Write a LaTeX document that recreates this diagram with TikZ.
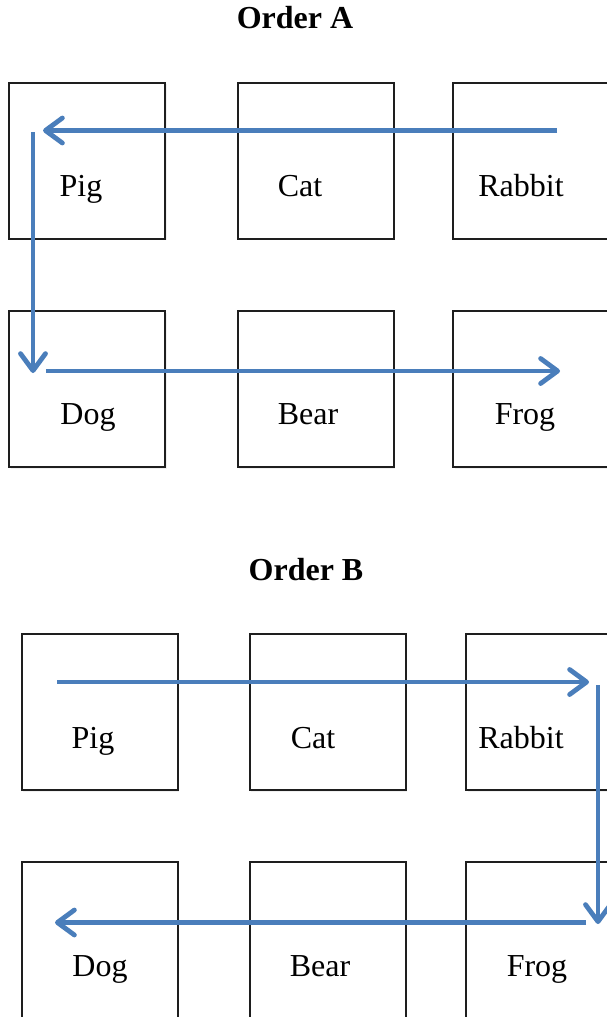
\documentclass[tikz,border=0pt]{standalone}
\usepackage{fontspec}
\setmainfont{Liberation Serif}
\usetikzlibrary{arrows.meta,shadows}
\definecolor{arrowblue}{RGB}{74,126,187}
\definecolor{boxline}{RGB}{30,30,30}
\tikzset{
  animalbox/.style={draw=boxline, line width=2pt, minimum width=156pt, minimum height=156pt,
    inner sep=0pt, fill=white, drop shadow={shadow xshift=1.5pt, shadow yshift=-1.5pt, opacity=0.12}},
  animal/.style={font=\fontsize{32}{38}\selectfont, inner sep=0pt, anchor=base},
  heading/.style={font=\fontsize{32}{38}\selectfont\bfseries, inner sep=0pt, anchor=base},
  flow/.style={draw=arrowblue, line width=4.8pt,
    -{Straight Barb[length=17pt, width=25pt, line cap=round, line join=round]}}
}
\begin{document}
\begin{tikzpicture}[x=1pt, y=-1pt]
\useasboundingbox (0,0) rectangle (606,1017);
% Order A
\node[heading] (titleA) at (295,28) {Order A};
\node[animalbox] (a1) at (87,160.5) {};
\node[animalbox] (a2) at (315.5,160.5) {};
\node[animalbox] (a3) at (531,160.5) {};
\node[animalbox] (a4) at (87,389) {};
\node[animalbox] (a5) at (315.5,389) {};
\node[animalbox] (a6) at (531,389) {};
\node[animal] (la1) at (81,196) {Pig};
\node[animal] (la2) at (300,196) {Cat};
\node[animal] (la3) at (521,196) {Rabbit};
\node[animal] (la4) at (88,424) {Dog};
\node[animal] (la5) at (308,424) {Bear};
\node[animal] (la6) at (525,424) {Frog};
\coordinate (pA1) at (557,130.5);
\coordinate (pA2) at (43,130.5);
\coordinate (pA3) at (33,132);
\coordinate (pA4) at (33,373);
\coordinate (pA5) at (46,371);
\coordinate (pA6) at (560,371);
\draw[flow] (pA1) -- (pA2);
\draw[flow] (pA3) -- (pA4);
\draw[flow] (pA5) -- (pA6);
% Order B
\node[heading] (titleB) at (306,580) {Order B};
\node[animalbox] (b1) at (99.5,712) {};
\node[animalbox] (b2) at (327.5,712) {};
\node[animalbox] (b3) at (544,712) {};
\node[animalbox] (b4) at (99.5,940) {};
\node[animalbox] (b5) at (327.5,940) {};
\node[animalbox] (b6) at (544,940) {};
\node[animal] (lb1) at (93,748) {Pig};
\node[animal] (lb2) at (313,748) {Cat};
\node[animal] (lb3) at (521,748) {Rabbit};
\node[animal] (lb4) at (100,976) {Dog};
\node[animal] (lb5) at (320,976) {Bear};
\node[animal] (lb6) at (537,976) {Frog};
\coordinate (pB1) at (57,682);
\coordinate (pB2) at (589,682);
\coordinate (pB3) at (598,685);
\coordinate (pB4) at (598,924);
\coordinate (pB5) at (586,922.5);
\coordinate (pB6) at (55,922.5);
\draw[flow] (pB1) -- (pB2);
\draw[flow] (pB3) -- (pB4);
\draw[flow] (pB5) -- (pB6);
\end{tikzpicture}
\end{document}
